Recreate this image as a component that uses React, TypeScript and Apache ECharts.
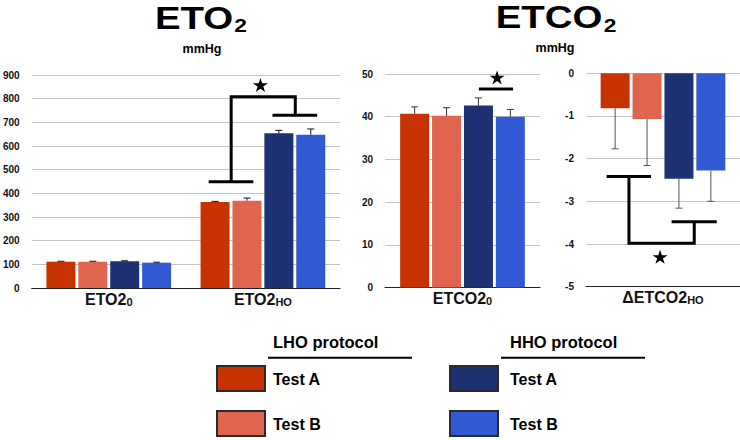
import React, { useEffect, useRef } from "react";
import * as echarts from "echarts";

// ---------- data ----------
const groupNames = ["LHO Test A", "LHO Test B", "HHO Test A", "HHO Test B"];
const groupColors = ["#c63200", "#e0654f", "#1e3273", "#3159d3"];
const protocolNames = ["LHO protocol", "HHO protocol"];
const testNames = ["Test A", "Test B"];

const eto2Categories = ["ETO2_0", "ETO2_HO"];
const etco2Categories = ["ETCO2_0"];
const detco2Categories = ["ΔETCO2_HO"];

// values indexed by group (LHO A, LHO B, HHO A, HHO B)
const eto2Baseline = [111, 111, 113, 107];
const eto2BaselineErr = [2, 2, 2, 2];
const eto2Ho = [363, 369, 654, 648];
const eto2HoErr = [3, 11, 12, 24];
const etco2Baseline = [40.7, 40.2, 42.6, 40.0];
const etco2BaselineErr = [1.6, 1.9, 1.8, 1.7];
const detco2Ho = [-0.82, -1.07, -2.47, -2.28];
const detco2HoErr = [0.95, 1.09, 0.69, 0.72];

// axis ranges [min, max, interval]
const eto2Axis = [0, 900, 100];
const etco2Axis = [0, 50, 10];
const detco2Axis = [-5, 0, 1];

// significance annotations: x as fraction of the panel width, y in data units
const eto2Bracket = [
  [[0.574, 449], [0.719, 449]],
  [[0.647, 449], [0.647, 808], [0.855, 808], [0.855, 730]],
  [[0.781, 730], [0.926, 730]],
];
const eto2Star = [0.742, 858];
const etco2Bracket = [[[0.606, 46.5], [0.826, 46.5]]];
const etco2Star = [0.723, 49.2];
const detco2Bracket = [
  [[0.134, -2.42], [0.422, -2.42]],
  [[0.279, -2.42], [0.279, -3.98], [0.703, -3.98], [0.703, -3.48]],
  [[0.556, -3.48], [0.849, -3.48]],
];
const detco2Star = [0.481, -4.3];

// ---------- styling ----------
const FONT = "'Liberation Sans', Arial, Helvetica, sans-serif";
const BAR_W = 29;
const STAR =
  "path://M0,-100 L22.5,-30.9 L95.1,-30.9 L36.3,11.8 L58.8,80.9 L0,38.2 L-58.8,80.9 L-36.3,11.8 L-95.1,-30.9 L-22.5,-30.9 Z";

export default function App() {
  const ref = useRef<HTMLDivElement>(null);

  useEffect(() => {
    document.body.style.margin = "0";
    const chart = echarts.init(ref.current!, null, { renderer: "svg" });

    const panels = [
      {
        cats: eto2Categories,
        values: [eto2Baseline, eto2Ho],
        errs: [eto2BaselineErr, eto2HoErr],
        axis: eto2Axis,
        grid: { left: 30, top: 75, width: 310, height: 213 },
        bracket: eto2Bracket,
        star: eto2Star,
        errColor: "#111",
      },
      {
        cats: etco2Categories,
        values: [etco2Baseline],
        errs: [etco2BaselineErr],
        axis: etco2Axis,
        grid: { left: 385, top: 74, width: 155, height: 213.5 },
        bracket: etco2Bracket,
        star: etco2Star,
        errColor: "#333",
      },
      {
        cats: detco2Categories,
        values: [detco2Ho],
        errs: [detco2HoErr],
        axis: detco2Axis,
        grid: { left: 586, top: 73.3, width: 154, height: 213.4 },
        bracket: detco2Bracket,
        star: detco2Star,
        errColor: "#555",
      },
    ];

    const grids: any[] = [];
    const xAxes: any[] = [];
    const yAxes: any[] = [];
    const series: any[] = [];

    panels.forEach((p, pi) => {
      grids.push({ ...p.grid, containLabel: false });
      xAxes[pi] = {
        type: "category",
        gridIndex: pi,
        data: p.cats,
        position: "bottom",
        axisLine: { onZero: false, lineStyle: { color: "#222", width: 1 } },
        axisTick: { show: false },
        axisLabel: {
          margin: 3,
          formatter: (v: string) => {
            const [m, s] = v.split("_");
            return `{m|${m}}{s|${s}}`;
          },
          rich: {
            m: { fontSize: 16, fontWeight: "bold", color: "#111", fontFamily: FONT },
            s: {
              fontSize: 11,
              fontWeight: "bold",
              color: "#111",
              fontFamily: FONT,
              verticalAlign: "bottom",
              lineHeight: 6,
            },
          },
        },
      };
      xAxes[3 + pi] = { type: "value", gridIndex: pi, min: 0, max: 1, show: false };
      yAxes.push({
        type: "value",
        gridIndex: pi,
        min: p.axis[0],
        max: p.axis[1],
        interval: p.axis[2],
        axisLine: { show: false },
        axisTick: { show: false },
        splitLine: { lineStyle: { color: "#c4c4c4", width: 1 } },
        axisLabel: {
          fontSize: 10,
          fontWeight: "bold",
          color: "#111",
          fontFamily: FONT,
          margin: 12,
        },
      });

      groupNames.forEach((g, gi) => {
        series.push({
          type: "bar",
          name: g,
          xAxisIndex: pi,
          yAxisIndex: pi,
          data: p.values.map((arr) => arr[gi]),
          barWidth: BAR_W,
          barGap: "10%",
          itemStyle: { color: groupColors[gi] },
        });
      });

      const errData: number[][] = [];
      p.values.forEach((arr, ci) => {
        arr.forEach((v, gi) => errData.push([ci, v, p.errs[ci][gi], gi]));
      });
      series.push({
        type: "custom",
        name: "error",
        xAxisIndex: pi,
        yAxisIndex: pi,
        z: 4,
        encode: { x: 0, y: 1 },
        data: errData,
        renderItem: (_params: any, api: any) => {
          const c = api.value(0);
          const v = api.value(1);
          const e = api.value(2);
          const g = api.value(3);
          const off = (g - 1.5) * (BAR_W * 1.1);
          const p0 = api.coord([c, v]);
          const p1 = api.coord([c, v < 0 ? v - e : v + e]);
          const x = p0[0] + off;
          const st = { stroke: p.errColor, lineWidth: 1 };
          return {
            type: "group",
            children: [
              { type: "line", shape: { x1: x, y1: p0[1], x2: x, y2: p1[1] }, style: st },
              { type: "line", shape: { x1: x - 3.5, y1: p1[1], x2: x + 3.5, y2: p1[1] }, style: st },
            ],
          };
        },
      });

      series.push({
        type: "lines",
        name: "significance",
        coordinateSystem: "cartesian2d",
        xAxisIndex: 3 + pi,
        yAxisIndex: pi,
        polyline: true,
        z: 5,
        data: p.bracket.map((coords) => ({ coords })),
        lineStyle: { color: "#000", width: 3, opacity: 1 },
      });
      series.push({
        type: "scatter",
        name: "star",
        xAxisIndex: 3 + pi,
        yAxisIndex: pi,
        z: 5,
        data: [p.star],
        symbol: STAR,
        symbolSize: [15, 14],
        itemStyle: { color: "#000", opacity: 1 },
      });
    });

    const titleText = (text: string, x: number, y: number, size: number, scaleX = 1) => ({
      type: "text",
      x,
      y,
      scaleX,
      style: {
        text,
        fontSize: size,
        fontWeight: "bold",
        fontFamily: FONT,
        fill: "#000",
        align: "center",
        verticalAlign: "middle",
      },
    });

    const graphics: any[] = [
      titleText("ETO", 194, 17.5, 32, 1.2),
      titleText("2", 240.5, 25.5, 19, 1.2),
      titleText("mmHg", 202, 48.7, 12.5),
      titleText("ETCO", 549, 17, 32, 1.2),
      titleText("2", 610, 25, 19, 1.2),
      titleText("mmHg", 555, 48, 12.5),
    ];

    const colX = [216, 449];
    const textX = [273, 510];
    const lineX = [[268, 412], [501, 645]];
    const rowY = [365, 410];
    protocolNames.forEach((name, ci) => {
      graphics.push({
        type: "text",
        x: textX[ci],
        y: 342,
        style: {
          text: name,
          fontSize: 16.5,
          fontWeight: "bold",
          fontFamily: FONT,
          fill: "#000",
          align: "left",
          verticalAlign: "middle",
        },
      });
      graphics.push({
        type: "line",
        shape: { x1: lineX[ci][0], y1: 357.7, x2: lineX[ci][1], y2: 357.7 },
        style: { stroke: "#000", lineWidth: 2 },
      });
      testNames.forEach((t, ri) => {
        const gi = ci * 2 + ri;
        graphics.push({
          type: "rect",
          shape: { x: colX[ci] + 1, y: rowY[ri] + 1, width: 48, height: 25 },
          style: { fill: groupColors[gi], stroke: "#2a2a2a", lineWidth: 2 },
        });
        graphics.push({
          type: "text",
          x: textX[ci],
          y: rowY[ri] + 14,
          style: {
            text: t,
            fontSize: 16,
            fontWeight: "bold",
            fontFamily: FONT,
            fill: "#000",
            align: "left",
            verticalAlign: "middle",
          },
        });
      });
    });

    chart.setOption({
      animation: false,
      backgroundColor: "#fff",
      textStyle: { fontFamily: FONT },
      grid: grids,
      xAxis: xAxes,
      yAxis: yAxes,
      series,
      graphic: graphics,
    });

    return () => chart.dispose();
  }, []);

  return (
    <div
      ref={ref}
      style={{ position: "absolute", left: 0, top: 0, width: 740, height: 440 }}
    />
  );
}
